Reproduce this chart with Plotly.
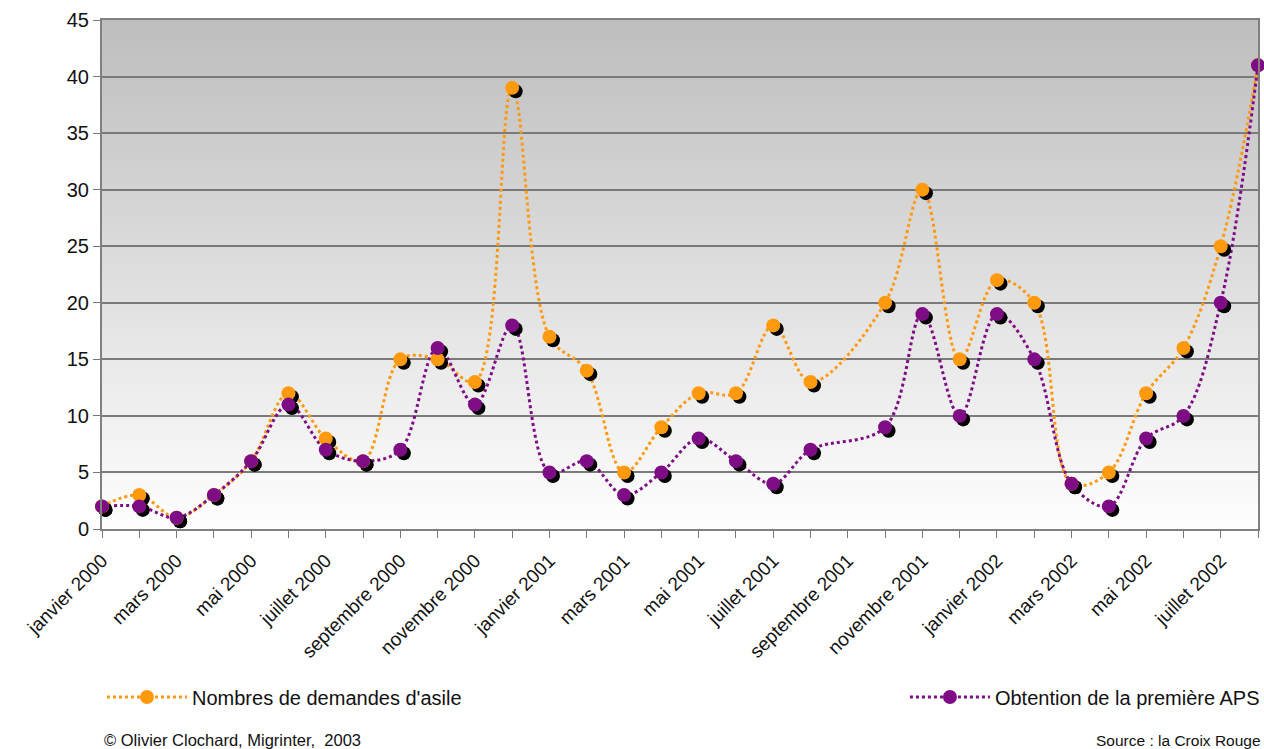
import plotly.graph_objects as go

months = [
    "janvier 2000", "février 2000", "mars 2000", "avril 2000", "mai 2000", "juin 2000",
    "juillet 2000", "août 2000", "septembre 2000", "octobre 2000", "novembre 2000", "décembre 2000",
    "janvier 2001", "février 2001", "mars 2001", "avril 2001", "mai 2001", "juin 2001",
    "juillet 2001", "août 2001", "septembre 2001", "octobre 2001", "novembre 2001", "décembre 2001",
    "janvier 2002", "février 2002", "mars 2002", "avril 2002", "mai 2002", "juin 2002",
    "juillet 2002", "août 2002",
]
demandes = [2, 3, 1, 3, 6, 12, 8, 6, 15, 15, 13, 39,
            17, 14, 5, 9, 12, 12, 18, 13, None, 20, 30, 15,
            22, 20, 4, 5, 12, 16, 25, 41]
aps = [2, 2, 1, 3, 6, 11, 7, 6, 7, 16, 11, 18,
       5, 6, 3, 5, 8, 6, 4, 7, None, 9, 19, 10,
       19, 15, 4, 2, 8, 10, 20, 41]
tick_labels = [m if i % 2 == 0 else "" for i, m in enumerate(months)]

ORANGE = "#FF9A0E"
PURPLE = "#7E0C84"
FONT = "Arial, Liberation Sans, sans-serif"

# plot area in pixels (for the shadow offset)
PX_PER_X = 1156 / 31
PX_PER_Y = 509 / 45
SHADOW = 3.5

fig = go.Figure()

series = [("Nombres de demandes d'asile", demandes, ORANGE, "legend"),
          ("Obtention de la première APS", aps, PURPLE, "legend2")]

# dotted smoothed lines
for name, vals, col, _ in series:
    fig.add_trace(go.Scatter(x=months, y=vals, mode="lines", connectgaps=True,
                             line=dict(color=col, width=3, dash="dot", shape="spline"),
                             showlegend=False, hoverinfo="skip"))

# black shadows, on a slightly shifted overlay
for name, vals, col, _ in series:
    fig.add_trace(go.Scatter(x=months, y=vals, mode="markers", xaxis="x2", yaxis="y2",
                             marker=dict(color="black", size=14), cliponaxis=False,
                             showlegend=False, hoverinfo="skip"))

# coloured markers on top
for name, vals, col, _ in series:
    fig.add_trace(go.Scatter(x=months, y=vals, mode="markers", xaxis="x3", yaxis="y3",
                             marker=dict(color=col, size=14), cliponaxis=False,
                             name=name, showlegend=False))

# legend entries
for name, vals, col, lg in series:
    fig.add_trace(go.Scatter(x=[None], y=[None], mode="lines+markers", name=name,
                             line=dict(color=col, width=3, dash="dot"),
                             marker=dict(color=col, size=14), legend=lg))

# grey gradient background
n = 80
shapes = []
for i in range(n):
    t = i / n
    g = int(255 - (255 - 190) * (t + 0.5 / n))
    shapes.append(dict(type="rect", xref="paper", yref="paper", x0=0, x1=1,
                       y0=t, y1=(i + 1) / n + 0.002, layer="below",
                       line=dict(width=0), fillcolor=f"rgb({g},{g},{g})"))

xr = [0, 31]
yr = [0, 45]
dx = SHADOW / PX_PER_X
dy = SHADOW / PX_PER_Y

fig.update_layout(
    width=1264, height=749,
    margin=dict(l=102, r=6, t=20, b=220, autoexpand=False),
    paper_bgcolor="white", plot_bgcolor="white",
    font=dict(family=FONT, color="#111"),
    shapes=shapes,
    xaxis=dict(type="category", range=xr, tickvals=months, ticktext=tick_labels,
               tickangle=-45, ticks="outside", ticklen=7, tickcolor="#777",
               tickfont=dict(size=19, color="#111"), ticklabelstandoff=4, showgrid=False,
               showline=True, linecolor="#808080", linewidth=2, mirror=True),
    yaxis=dict(range=yr, dtick=5, ticks="outside", ticklen=7, tickcolor="#777",
               tickfont=dict(size=20, color="#111"), gridcolor="#7a7a7a", gridwidth=1.5,
               zeroline=False, showline=True, linecolor="#808080", linewidth=2, mirror=True),
    xaxis2=dict(type="category", range=[xr[0] - dx, xr[1] - dx], overlaying="x",
                visible=False),
    yaxis2=dict(range=[yr[0] + dy, yr[1] + dy], overlaying="y", visible=False),
    xaxis3=dict(type="category", range=xr, overlaying="x", visible=False),
    yaxis3=dict(range=yr, overlaying="y", visible=False),
    legend=dict(x=0, y=-0.33, xanchor="left", yanchor="middle", itemwidth=80,
                font=dict(size=20, family=FONT, color="#111"), bgcolor="rgba(0,0,0,0)"),
    legend2=dict(x=1.006, y=-0.33, xanchor="right", yanchor="middle", itemwidth=80,
                 font=dict(size=20, family=FONT, color="#111"), bgcolor="rgba(0,0,0,0)"),
    annotations=[
        dict(text="© Olivier Clochard, Migrinter,  2003", xref="paper", yref="paper",
             x=0, y=-0.415, xanchor="left", yanchor="middle", showarrow=False,
             font=dict(size=16.5, family=FONT, color="#111")),
        dict(text="Source : la Croix Rouge", xref="paper", yref="paper",
             x=1.004, y=-0.415, xanchor="right", yanchor="middle", showarrow=False,
             font=dict(size=15.5, family=FONT, color="#111")),
    ],
)

fig.write_html("out.html", config={"displayModeBar": False},
               post_script="document.body.style.margin='0';")
